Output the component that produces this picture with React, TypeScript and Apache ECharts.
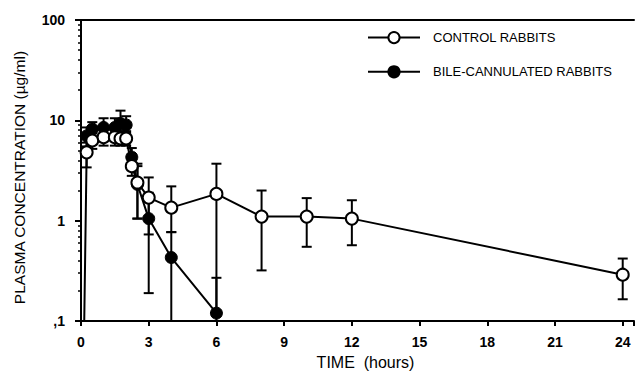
import React, { useEffect, useRef } from 'react';
import * as echarts from 'echarts';

// ---- data ----
const xTickValues = [0, 3, 6, 9, 12, 15, 18, 21, 24];
const yMajorValues = [0.1, 1, 10, 100];
const yMajorLabels = [',1', '1', '10', '100'];
const yMinorValues = [0.2, 0.3, 0.4, 0.5, 0.6, 0.7, 0.8, 0.9, 2, 3, 4, 5, 6, 7, 8, 9, 20, 30, 40, 50, 60, 70, 80, 90];

const seriesNames = ['CONTROL RABBITS', 'BILE-CANNULATED RABBITS'];

// control rabbits (open circles)
const controlTime = [0.08, 0.25, 0.5, 1, 1.5, 1.75, 2, 2.25, 2.5, 3, 4, 6, 8, 10, 12, 24];
const controlMean = [0.01, 4.8, 6.3, 6.8, 6.8, 6.6, 6.6, 3.5, 2.4, 1.7, 1.35, 1.85, 1.1, 1.1, 1.05, 0.29];
const controlLow = [null, 3.4, 5.2, 5.6, 5.6, 5.6, 5.6, 2.8, 1.05, 0.73, 0.77, 0.12, 0.32, 0.55, 0.57, 0.165];
const controlHigh = [null, 6.0, 7.4, 8.0, 8.0, 7.8, 7.8, 4.2, 3.7, 2.7, 2.2, 3.7, 2.0, 1.68, 1.6, 0.42];

// bile-cannulated rabbits (filled circles)
const bileTime = [0.25, 0.5, 1, 1.5, 1.75, 2, 2.25, 2.5, 3, 4, 6];
const bileMean = [7.0, 8.2, 8.5, 8.5, 9.3, 9.0, 4.3, 2.3, 1.05, 0.43, 0.12];
const bileLow = [5.5, 6.8, 7.0, 7.0, 7.5, 7.5, 3.3, 1.05, 0.19, 0.05, 0.05];
const bileHigh = [8.5, 9.6, 10.5, 10.5, 12.5, 11.0, 5.3, 3.5, 1.9, 0.77, 0.27];

const FONT = 'Liberation Sans';

function errorBarRender(params: any, api: any) {
  const x = api.value(0);
  const lo = api.value(1);
  const hi = api.value(2);
  const pLo = api.coord([x, lo]);
  const pHi = api.coord([x, hi]);
  const w = 5;
  const style = { stroke: '#000', lineWidth: 2 };
  return {
    type: 'group',
    children: [
      { type: 'line', shape: { x1: pLo[0], y1: pLo[1], x2: pHi[0], y2: pHi[1] }, style },
      { type: 'line', shape: { x1: pHi[0] - w, y1: pHi[1], x2: pHi[0] + w, y2: pHi[1] }, style },
      { type: 'line', shape: { x1: pLo[0] - w, y1: pLo[1], x2: pLo[0] + w, y2: pLo[1] }, style },
    ],
  };
}

export default function App() {
  const ref = useRef<HTMLDivElement>(null);
  useEffect(() => {
    if (!ref.current) return;
    const chart = echarts.init(ref.current, null, { renderer: 'svg' });
    const controlBars = controlTime
      .map((t, i) => [t, controlLow[i], controlHigh[i]])
      .filter((d) => d[1] != null);
    const bileBars = bileTime.map((t, i) => [t, bileLow[i], bileHigh[i]]);
    const option: any = {
      animation: false,
      backgroundColor: '#fff',
      textStyle: { fontFamily: FONT },
      grid: { left: 81, right: 0, top: 20, bottom: 48 },
      legend: {
        orient: 'vertical',
        left: 362,
        top: 26,
        itemWidth: 52,
        itemHeight: 14,
        itemGap: 21,
        data: seriesNames,
        textStyle: { fontFamily: FONT, fontSize: 13, color: '#000', padding: [0, 0, 0, 8] },
      },
      xAxis: [
        {
          type: 'value',
          min: 0,
          max: 24.5,
          interval: 3,
          name: 'TIME  (hours)',
          nameLocation: 'middle',
          nameGap: 32,
          nameTextStyle: { fontFamily: FONT, fontSize: 16, color: '#000', padding: [0, 0, 0, 16] },
          axisLine: { show: true, onZero: false, lineStyle: { color: '#000', width: 2 } },
          axisTick: { show: true, length: 5, lineStyle: { color: '#000', width: 2 } },
          axisLabel: {
            margin: 14,
            fontFamily: FONT,
            fontSize: 14,
            fontWeight: 'bold',
            color: '#000',
            formatter: (v: number) => (xTickValues.includes(v) ? String(v) : ''),
          },
          splitLine: { show: false },
        },
        {
          type: 'value',
          position: 'top',
          min: 0,
          max: 24.5,
          interval: 3,
          axisLine: { show: true, onZero: false, lineStyle: { color: '#000', width: 2 } },
          axisTick: { show: false },
          axisLabel: { show: false },
          splitLine: { show: false },
        },
      ],
      yAxis: [
        {
          type: 'log',
          logBase: 10,
          min: 0.1,
          max: 100,
          name: 'PLASMA CONCENTRATION (µg/ml)',
          nameLocation: 'middle',
          nameGap: 54,
          nameRotate: 90,
          nameTextStyle: { fontFamily: FONT, fontSize: 15.5, color: '#000', padding: [0, 14, 0, 0] },
          axisLine: { show: true, onZero: false, lineStyle: { color: '#000', width: 2 } },
          axisTick: { show: true, length: 6, lineStyle: { color: '#000', width: 2 } },
          axisLabel: {
            margin: 16,
            fontFamily: FONT,
            fontSize: 14,
            fontWeight: 'bold',
            color: '#000',
            formatter: (v: number) => {
              const i = yMajorValues.findIndex((m) => Math.abs(m - v) / m < 1e-6);
              return i >= 0 ? yMajorLabels[i] : '';
            },
          },
          splitLine: { show: false },
        },
        {
          type: 'value',
          min: -1,
          max: 2,
          position: 'left',
          axisLine: { show: false },
          axisTick: {
            show: true,
            length: 3,
            customValues: yMinorValues.map((v) => Math.log10(v)),
            lineStyle: { color: '#000', width: 1.5 },
          },
          axisLabel: { show: false },
          splitLine: { show: false },
        },
      ],
      series: [
        {
          type: 'custom',
          name: 'bileBars',
          clip: true,
          renderItem: errorBarRender,
          data: bileBars,
          encode: { x: 0, y: [1, 2] },
          z: 1,
        },
        {
          type: 'custom',
          name: 'controlBars',
          clip: true,
          renderItem: errorBarRender,
          data: controlBars,
          encode: { x: 0, y: [1, 2] },
          z: 1,
        },
        {
          name: seriesNames[1],
          type: 'line',
          clip: true,
          data: bileTime.map((t, i) => [t, bileMean[i]]),
          symbol: 'circle',
          symbolSize: 12,
          showAllSymbol: true,
          lineStyle: { color: '#000', width: 2 },
          itemStyle: { color: '#000', borderColor: '#000', borderWidth: 1 },
          z: 3,
        },
        {
          name: seriesNames[0],
          type: 'line',
          clip: true,
          data: controlTime.map((t, i) => [t, controlMean[i]]),
          symbol: 'circle',
          symbolSize: 12,
          showAllSymbol: true,
          lineStyle: { color: '#000', width: 2 },
          itemStyle: { color: '#fff', borderColor: '#000', borderWidth: 2 },
          z: 4,
        },
      ],
    };
    chart.setOption(option);
    return () => chart.dispose();
  }, []);
  return (
    <div
      ref={ref}
      style={{ position: 'fixed', left: 0, top: 0, width: 637, height: 375, background: '#fff' }}
    />
  );
}
